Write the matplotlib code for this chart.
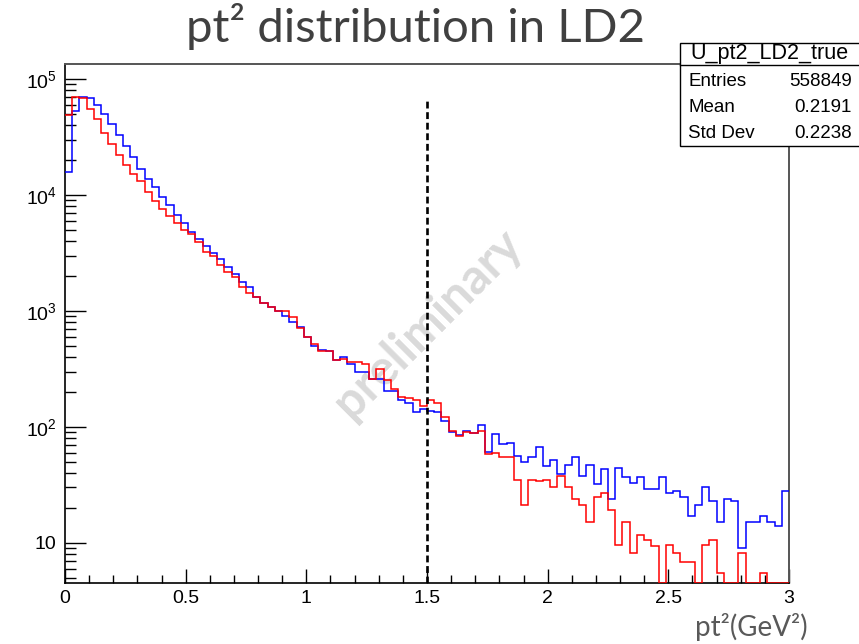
import numpy as np
import matplotlib.pyplot as plt
from matplotlib.patches import Rectangle
from matplotlib.lines import Line2D
from matplotlib.ticker import FixedLocator, NullFormatter

plt.rcParams['mathtext.fontset'] = 'custom'
plt.rcParams['mathtext.rm'] = 'Liberation Sans'
plt.rcParams['mathtext.it'] = 'Liberation Sans'

# histogram: 100 bins in pt2 between 0 and 3
x_min, x_max, n_bins = 0.0, 3.0, 100

blue_counts = [
    15800, 52700, 70300, 68500, 60100, 50200, 40600, 33100, 26300, 21300,
    16900, 13800, 11700, 9620, 8150, 6760, 5770, 4830, 4150, 3630,
    3140, 2790, 2410, 2080, 1790, 1620, 1330, 1180, 1080, 990,
    900, 800, 720, 595, 500, 465, 455, 376, 398, 352,
    297, 297, 258, 258, 205, 205, 171, 161, 134, 142,
    136, 134, 113, 91, 85, 93, 88, 103, 61, 87,
    71, 72, 56, 50, 55, 67, 46, 52, 39, 47,
    55, 38, 47, 32, 43, 24, 44, 37, 33, 37,
    29, 29, 37, 27, 28, 25, 17, 21, 30, 23,
    15, 24, 23, 9, 15, 15, 17, 15, 14, 28,
]

red_counts = [
    49200, 70300, 69000, 55500, 44900, 34400, 27700, 22300, 18300, 15300,
    13200, 10600, 8830, 7620, 6590, 5770, 4960, 4610, 3960, 3210,
    2980, 2500, 2150, 1950, 1620, 1440, 1330, 1180, 1090, 990,
    990, 885, 710, 600, 520, 455, 455, 376, 388, 366,
    362, 352, 260, 318, 252, 214, 181, 176, 170, 150,
    171, 160, 122, 93, 83, 91, 88, 92, 58, 60,
    55, 55, 35, 21, 35, 34, 35, 30, 38, 30,
    24, 21, 15, 25, 27, 19, 9.6, 15, 8.1, 11.7,
    10.5, 9.4, 0, 9.6, 8.1, 6.8, 6.8, 0, 9.6, 10.5,
    5.5, 0, 0, 8.1, 0, 0, 5.5, 0, 0, 0,
]

cut_value = 1.5
cut_top = 6.6e4

y_min, y_max = 4.5, 1.35e5
y_major = [10, 100, 1000, 1e4, 1e5]
y_labels = ['10', r'$10^{2}$', r'$10^{3}$', r'$10^{4}$', r'$10^{5}$']
x_major = [0, 0.5, 1, 1.5, 2, 2.5, 3]
x_labels = ['0', '0.5', '1', '1.5', '2', '2.5', '3']

stats_name = 'U_pt2_LD2_true'
stats_rows = [('Entries', '558849'), ('Mean', '0.2191'), ('Std Dev', '0.2238')]

W, H = 859, 644


def fx(px):
    return px / W


def fy(py):
    return 1 - py / H


fig = plt.figure(figsize=(W / 100, H / 100), dpi=100)
ax = fig.add_axes([fx(65), fy(583), fx(789) - fx(65), fy(64) - fy(583)])

edges = np.linspace(x_min, x_max, n_bins + 1)
blue = np.array(blue_counts, dtype=float)
red = np.array(red_counts, dtype=float)

# empty bins sit on the bottom of the frame, as ROOT draws them on a log axis
ax.stairs(np.maximum(blue, y_min), edges, baseline=None, color='#0000ff', lw=1.1, zorder=3)
ax.stairs(np.maximum(red, y_min), edges, baseline=None, color='#ff0000', lw=1.1, zorder=4)

ax.vlines(cut_value, y_min, cut_top, colors='black', linestyles=(0, (2.6, 1.4)), lw=1.9, zorder=5)

ax.set_yscale('log')
ax.set_xlim(x_min, x_max)
ax.set_ylim(y_min, y_max)

ax.xaxis.set_major_locator(FixedLocator(x_major))
ax.set_xticklabels(x_labels)
ax.xaxis.set_minor_locator(FixedLocator(np.arange(0, 3.001, 0.1)))
ax.yaxis.set_major_locator(FixedLocator(y_major))
ax.set_yticklabels(y_labels)
minor_y = [m * 10.0 ** e for e in range(0, 6) for m in range(2, 10)]
ax.yaxis.set_minor_locator(FixedLocator(minor_y))
ax.yaxis.set_minor_formatter(NullFormatter())

for lab in ax.get_xticklabels() + ax.get_yticklabels():
    lab.set_fontfamily('Liberation Sans')
    lab.set_fontsize(14)

ax.tick_params(axis='x', which='major', direction='in', length=10, width=1.0, pad=5)
ax.tick_params(axis='x', which='minor', direction='in', length=5.5, width=1.0)
ax.tick_params(axis='y', which='major', direction='in', length=15, width=1.0, pad=6)
ax.tick_params(axis='y', which='minor', direction='in', length=8, width=1.0)

for side in ['left', 'bottom']:
    ax.spines[side].set_linewidth(1.2)
    ax.spines[side].set_color('black')
for side in ['top', 'right']:
    ax.spines[side].set_linewidth(1.4)
    ax.spines[side].set_color('#555555')

# watermark under the histograms
ax.text(fx(428), fy(323), 'preliminary', transform=fig.transFigure, rotation=45,
        ha='center', va='center', fontsize=35, fontweight='bold', family='Lato',
        color='#dadada', zorder=1, clip_on=False)

fig.text(fx(416), fy(42), 'pt² distribution in LD2', ha='center', va='baseline',
         fontsize=34, family='Lato', color='#404040')
fig.text(fx(808), fy(636), 'pt²(GeV²)', ha='right', va='baseline',
         fontsize=20, family='Lato', color='#595959')

# stats box
bx0, bx1, by0, by1, by_div = 680, 870, 43, 146, 65
fig.patches.append(Rectangle((fx(bx0), fy(by1)), fx(bx1) - fx(bx0), fy(by0) - fy(by1),
                             transform=fig.transFigure, facecolor='white',
                             edgecolor='black', lw=1.0, zorder=10))
fig.lines.append(Line2D([fx(bx0), fx(bx1)], [fy(by_div), fy(by_div)],
                        transform=fig.transFigure, color='black', lw=1.0, zorder=11))
fig.text(fx(769), fy(54), stats_name, ha='center', va='center', fontsize=15.5,
         family='Liberation Sans', zorder=12)
for i, (name, val) in enumerate(stats_rows):
    yy = 82 + i * 26
    fig.text(fx(688), fy(yy), name, ha='left', va='center', fontsize=13.5,
             family='Liberation Sans', zorder=12)
    fig.text(fx(852), fy(yy), val, ha='right', va='center', fontsize=13.5,
             family='Liberation Sans', zorder=12)

fig.savefig('out.png', dpi=100)
